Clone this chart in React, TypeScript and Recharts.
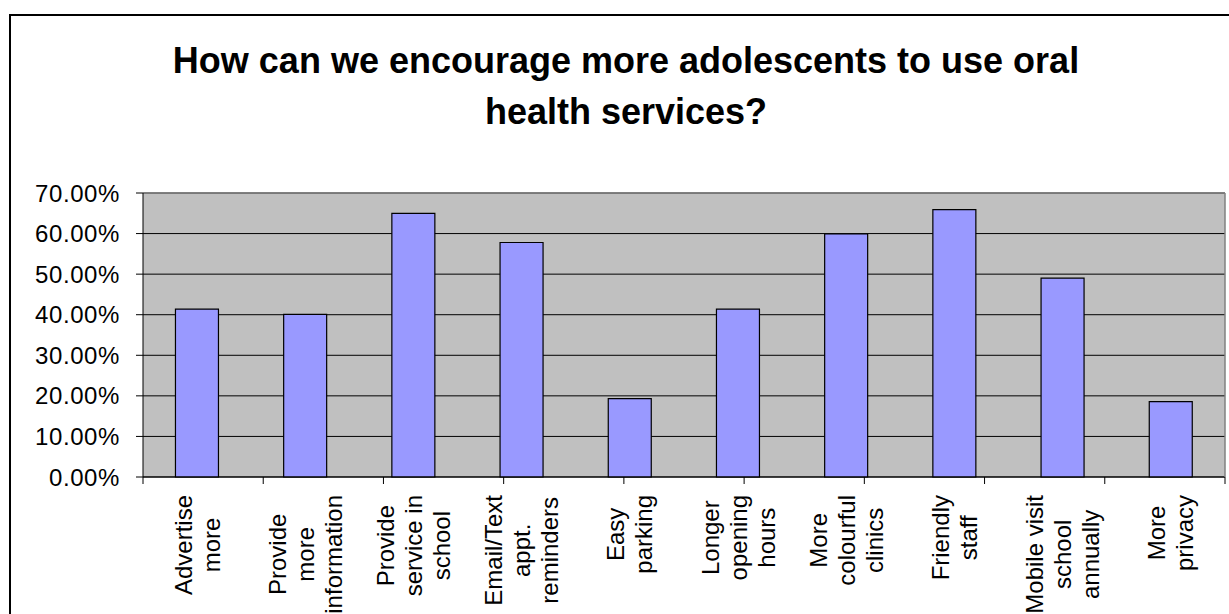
import React from 'react';
import { BarChart, Bar, XAxis, YAxis, CartesianGrid, ReferenceLine } from 'recharts';

const titleLines = ['How can we encourage more adolescents to use oral', 'health services?'];

const categories = [
  'Advertise more',
  'Provide more information',
  'Provide service in school',
  'Email/Text appt. reminders',
  'Easy parking',
  'Longer opening hours',
  'More colourful clinics',
  'Friendly staff',
  'Mobile visit school annually',
  'More privacy',
];

const labelLines = [
  ['Advertise', 'more'],
  ['Provide', 'more', 'information'],
  ['Provide', 'service in', 'school'],
  ['Email/Text', 'appt.', 'reminders'],
  ['Easy', 'parking'],
  ['Longer', 'opening', 'hours'],
  ['More', 'colourful', 'clinics'],
  ['Friendly', 'staff'],
  ['Mobile visit', 'school', 'annually'],
  ['More', 'privacy'],
];

const values = [0.414, 0.401, 0.65, 0.578, 0.193, 0.414, 0.599, 0.659, 0.49, 0.186];

const yTicks = [0, 0.1, 0.2, 0.3, 0.4, 0.5, 0.6, 0.7];
const edgeTicks = [0, 1, 2, 3, 4, 5, 6, 7, 8, 9, 10];

const data = categories.map((name, i) => ({ name, value: values[i] }));

const FONT = '"Liberation Sans", Arial, sans-serif';
const LABEL_SIZE = 24;

let ctx: CanvasRenderingContext2D | null = null;
function measure(t: string): number {
  if (!ctx) ctx = document.createElement('canvas').getContext('2d');
  if (!ctx) return t.length * LABEL_SIZE * 0.5;
  ctx.font = `${LABEL_SIZE}px ${FONT}`;
  return ctx.measureText(t).width;
}

function CatTick(props: any) {
  const { x, y, payload } = props;
  const idx = categories.indexOf(payload.value);
  const lines = idx >= 0 ? labelLines[idx] : [String(payload.value)];
  const maxW = Math.max(...lines.map(measure));
  const topOffset = 17;
  const L = 28;
  const k = 8.5;
  const n = lines.length;
  return (
    <g transform={`translate(${x},${y}) rotate(-90)`}>
      {lines.map((l, i) => (
        <text
          key={i}
          x={-(topOffset + maxW / 2)}
          y={(i - (n - 1) / 2) * L + k}
          textAnchor="middle"
          fontFamily={FONT}
          fontSize={LABEL_SIZE}
          fill="#000"
        >
          {l}
        </text>
      ))}
    </g>
  );
}

function EmptyTick() {
  return <g />;
}

export default function App() {
  return (
    <div
      style={{
        position: 'fixed',
        left: 0,
        top: 0,
        width: 1229,
        height: 614,
        overflow: 'hidden',
        background: '#fff',
      }}
    >
      <div
        style={{
          position: 'absolute',
          left: 9,
          top: 14,
          width: 1260,
          height: 640,
          border: '2px solid #000',
        }}
      />
      <div
        style={{
          position: 'absolute',
          left: 26,
          top: 35,
          width: 1200,
          textAlign: 'center',
          fontFamily: FONT,
          fontWeight: 'bold',
          fontSize: 36,
          lineHeight: '51px',
          color: '#000',
        }}
      >
        {titleLines.map((t, i) => (
          <div key={i}>{t}</div>
        ))}
      </div>
      <div style={{ position: 'absolute', left: 0, top: 0 }}>
        <BarChart
          width={1229}
          height={614}
          data={data}
          margin={{ top: 193, right: 0, left: 0, bottom: 0 }}
          barCategoryGap="30%"
        >
          <CartesianGrid
            horizontal
            vertical={false}
            stroke="#000"
            strokeWidth={1}
            fill="#C0C0C0"
            fillOpacity={1}
          />
          <XAxis
            xAxisId={0}
            type="number"
            domain={[0, 10]}
            ticks={edgeTicks}
            interval={0}
            height={1}
            tick={EmptyTick}
            tickSize={7}
            tickLine={{ stroke: '#000', strokeWidth: 1 }}
            axisLine={{ stroke: '#000', strokeWidth: 1 }}
          />
          <XAxis
            xAxisId="cat"
            dataKey="name"
            height={136}
            interval={0}
            axisLine={false}
            tickLine={false}
            tickSize={0}
            tickMargin={0}
            tick={CatTick}
          />
          <YAxis
            domain={[0, 0.7]}
            ticks={yTicks}
            interval={0}
            width={143}
            tickSize={7}
            tickMargin={16}
            tickFormatter={(v: number) => `${(v * 100).toFixed(2)}%`}
            tick={{ fill: '#000', fontSize: 24, fontFamily: FONT, letterSpacing: 0.6 }}
            tickLine={{ stroke: '#000', strokeWidth: 1 }}
            axisLine={{ stroke: '#000', strokeWidth: 1 }}
          />
          <YAxis
            yAxisId="r"
            orientation="right"
            domain={[0, 0.7]}
            width={4}
            tick={false}
            tickLine={false}
            axisLine={{ stroke: '#808080', strokeWidth: 1.5 }}
          />
          <ReferenceLine y={0.7} stroke="#808080" strokeWidth={1.5} />
          <Bar
            xAxisId="cat"
            dataKey="value"
            fill="#9999FF"
            stroke="#000"
            strokeWidth={1.2}
            isAnimationActive={false}
          />
        </BarChart>
      </div>
    </div>
  );
}
